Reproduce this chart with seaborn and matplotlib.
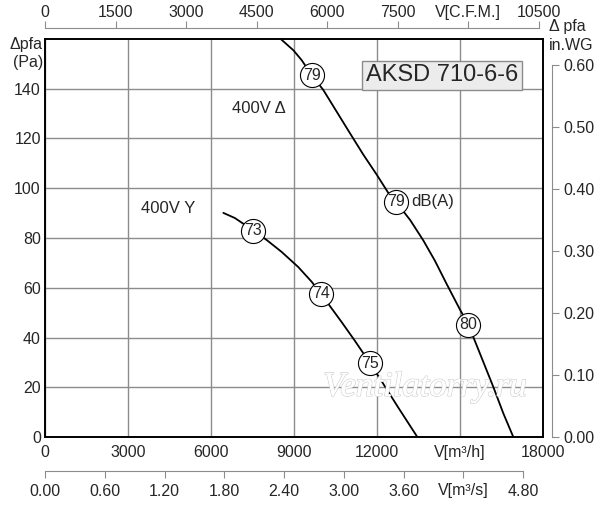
import pandas as pd
import seaborn as sns
import matplotlib
matplotlib.use("Agg")
import matplotlib.pyplot as plt
import matplotlib.patheffects as pe

# fan curve 400V delta: flow in m3/h, pressure in Pa
delta_flow = [8520, 8975, 9277, 9639, 10060, 10542, 11024, 11506, 11988, 12410,
              12687, 13200, 13675, 14096, 14518, 15000, 15300, 15723, 16205,
              16566, 16927]
delta_pa = [160, 155.5, 151.5, 145.5, 139.5, 130.8, 122.1, 113.5, 105.5, 98.1,
            94.5, 87.2, 79.0, 70.8, 61.5, 51.2, 45.2, 33.5, 20.1,
            9.5, 0]

# fan curve 400V Y
star_flow = [6446, 6867, 7530, 8012, 8554, 9156, 9639, 9976, 10301, 10722,
             11205, 11747, 12169, 12771, 13458]
star_pa = [90.1, 88.0, 83.0, 79.2, 74.4, 68.3, 62.4, 57.6, 52.6, 46.2,
           38.6, 29.7, 22.4, 11.8, 0]

# sound level markers dB(A)
mark_flow = [9639, 12687, 15300, 7530, 9976, 11747]
mark_pa = [145.5, 94.5, 45.2, 83.0, 57.6, 29.7]
mark_db = ["79", "79", "80", "73", "74", "75"]

m3h_ticks = [0, 3000, 6000, 9000, 12000, 15000, 18000]
m3h_labels = ["0", "3000", "6000", "9000", "12000", "V[m³/h]", "18000"]
cfm_ticks = [0, 1500, 3000, 4500, 6000, 7500, 9000, 10500]
cfm_labels = ["0", "1500", "3000", "4500", "6000", "7500", "V[C.F.M.]", "10500"]
m3s_ticks = [0, 0.6, 1.2, 1.8, 2.4, 3.0, 3.6, 4.2, 4.8]
m3s_labels = ["0.00", "0.60", "1.20", "1.80", "2.40", "3.00", "3.60", "V[m³/s]", "4.80"]
pa_ticks = [0, 20, 40, 60, 80, 100, 120, 140]
inwg_ticks = [0, 0.1, 0.2, 0.3, 0.4, 0.5, 0.6]

sns.set_style("white")
plt.rcParams["font.family"] = ["Liberation Sans", "DejaVu Sans"]
plt.rcParams["font.size"] = 11

fig = plt.figure(figsize=(6, 5.05), dpi=100)
ax = fig.add_axes([45 / 600, 1 - 437 / 505, 498 / 600, 398 / 505])

delta_df = pd.DataFrame({"flow": delta_flow, "pa": delta_pa})
star_df = pd.DataFrame({"flow": star_flow, "pa": star_pa})
sns.lineplot(data=delta_df, x="flow", y="pa", sort=False, estimator=None,
             color="black", linewidth=1.3, ax=ax)
sns.lineplot(data=star_df, x="flow", y="pa", sort=False, estimator=None,
             color="black", linewidth=1.3, ax=ax)

mark_df = pd.DataFrame({"flow": mark_flow, "pa": mark_pa})
sns.scatterplot(data=mark_df, x="flow", y="pa", s=300, color="white",
                edgecolor="black", linewidth=0.8, zorder=4, ax=ax)
for fx, py, lab in zip(mark_flow, mark_pa, mark_db):
    ax.text(fx, py, lab, ha="center", va="center", fontsize=11.5, zorder=5)

ax.set_xlim(0, 18000)
ax.set_ylim(0, 160)
ax.set_xticks(m3h_ticks, labels=m3h_labels)
ax.set_yticks(pa_ticks)
ax.set_xlabel("")
ax.set_ylabel("")
ax.tick_params(axis="both", length=0, labelsize=11.5)
ax.tick_params(axis="x", pad=6)
ax.tick_params(axis="y", pad=3)
ax.grid(True, color="#8c8c8c", linewidth=1.0)
for sp in ax.spines.values():
    sp.set_color("black")
    sp.set_linewidth(1.4)

# text annotations
ax.text(13230, 94.5, "dB(A)", ha="left", va="center", fontsize=12)
ax.text(7735, 132, "400V Δ", ha="center", va="center", fontsize=12)
ax.text(4460, 92, "400V Y", ha="center", va="center", fontsize=12)
ax.text(14350, 145.4, "AKSD 710-6-6", ha="center", va="center", fontsize=17,
        bbox=dict(boxstyle="square,pad=0.15", facecolor="#ececec",
                  edgecolor="#8c8c8c", linewidth=1.0), zorder=6)
wm = ax.text(13733, 20, "Ventilatorry.ru", ha="center", va="center",
             fontsize=25, style="italic", family="Liberation Serif",
             color="white", zorder=3)
wm.set_path_effects([pe.withStroke(linewidth=1.1, foreground="#d2d2d2"),
                     pe.Normal()])

# top axis in C.F.M.
top = ax.secondary_xaxis((437 - 28) / 398,
                         functions=(lambda x: x / 1.699, lambda x: x * 1.699))
top.set_xticks(cfm_ticks, labels=cfm_labels)
top.spines["top"].set_bounds(0, 10500)
top.spines["top"].set_color("#8c8c8c")
top.tick_params(axis="x", direction="out", length=5, color="#8c8c8c",
                labelsize=11.5, pad=0.5)

# lower axis in m3/s
bot = ax.secondary_xaxis(-(471 - 437) / 398,
                         functions=(lambda x: x / 3600, lambda x: x * 3600))
bot.set_xticks(m3s_ticks, labels=m3s_labels)
bot.spines["bottom"].set_bounds(0, 4.8)
bot.spines["bottom"].set_color("#8c8c8c")
bot.tick_params(axis="x", direction="out", length=5, color="#8c8c8c",
                labelsize=11.5, pad=4)

# right axis in inch water gauge
right = ax.secondary_yaxis((552 - 45) / 498,
                           functions=(lambda y: y / 249.09, lambda y: y * 249.09))
right.set_yticks(inwg_ticks, labels=["%.2f" % v for v in inwg_ticks])
right.spines["right"].set_bounds(0, 0.6)
right.spines["right"].set_color("#8c8c8c")
right.tick_params(axis="y", direction="out", length=5, color="#8c8c8c",
                  labelsize=11.5, pad=3)

fig.text(43 / 600, 1 - 53 / 505, "Δpfa\n(Pa)", ha="right", va="center",
         fontsize=11.5, linespacing=1.25)
fig.text(549 / 600, 1 - 36 / 505, "Δ pfa\nin.WG", ha="left", va="center",
         fontsize=11.5, linespacing=1.25)

plt.savefig("out.png", dpi=100)
